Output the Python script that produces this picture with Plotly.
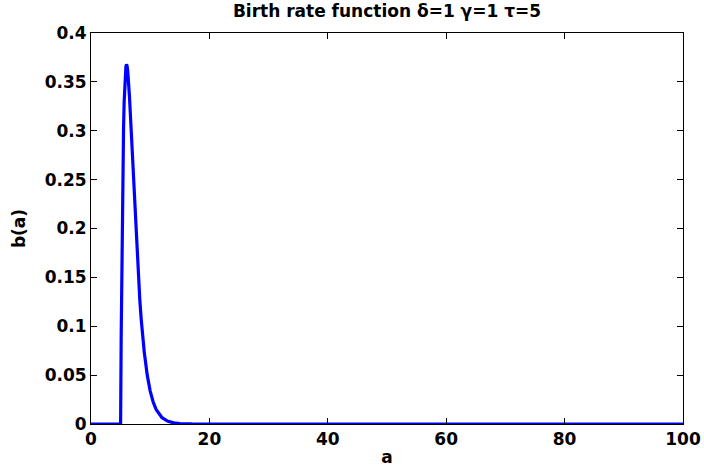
import plotly.graph_objects as go

# age values and birth rate
a_vals = [0, 4.99, 5.0, 5.1, 5.2, 5.3, 5.4, 5.5, 5.6, 5.7, 5.8, 5.9, 6.0, 6.1, 6.2, 6.3, 6.4, 6.5,
          6.6, 6.8, 7.0, 7.25, 7.5, 7.75, 8.0, 8.25, 8.5, 8.75, 9.0, 9.5, 10.0, 10.5, 11.0, 12.0,
          13.0, 14.0, 15.0, 17.0, 20.0, 100.0]
b_vals = [0, 0, 0, 0.0905, 0.1637, 0.2222, 0.2681, 0.3033, 0.3293, 0.3476, 0.3595, 0.3659,
          0.3679, 0.3662, 0.3614, 0.3543, 0.3452, 0.3347, 0.3230, 0.2975, 0.2707, 0.2371,
          0.2052, 0.1757, 0.1494, 0.1261, 0.1057, 0.0881, 0.0733, 0.0500, 0.0337, 0.0225,
          0.0149, 0.0064, 0.0027, 0.0011, 0.00045, 0.00007, 0.0, 0.0]

x_ticks = [0, 20, 40, 60, 80, 100]
y_ticks = [0, 0.05, 0.1, 0.15, 0.2, 0.25, 0.3, 0.35, 0.4]
y_tick_text = ["0", "0.05", "0.1", "0.15", "0.2", "0.25", "0.3", "0.35", "0.4"]

font_family = "DejaVu Sans, Liberation Sans, Arial, sans-serif"

fig = go.Figure()
fig.add_trace(go.Scatter(x=a_vals, y=b_vals, mode="lines",
                         line=dict(color="#0000ff", width=3.2),
                         showlegend=False))

axis_common = dict(showgrid=False, zeroline=False, showline=True, linecolor="black", linewidth=1,
                   mirror="ticks", ticks="inside", ticklen=6, tickcolor="black",
                   automargin=False,
                   tickfont=dict(family=font_family, size=17, color="black", weight="bold"))

fig.update_layout(
    width=704, height=474,
    paper_bgcolor="white", plot_bgcolor="white",
    margin=dict(l=91, r=21, t=33, b=50),
    title=dict(text="Birth rate function δ=1 γ=1 τ=5", x=(91 + 683) / 2 / 704, xanchor="center",
               y=1 - 11 / 474, yanchor="middle",
               font=dict(family=font_family, size=17, color="black", weight="bold")),
    xaxis=dict(range=[0, 100], tickvals=x_ticks,
               title=dict(text="a", standoff=2,
                          font=dict(family=font_family, size=17, color="black", weight="bold")),
               **axis_common),
    yaxis=dict(range=[0, 0.4], tickvals=y_ticks, ticktext=y_tick_text,
               title=dict(text="b(a)", standoff=14,
                          font=dict(family=font_family, size=17, color="black", weight="bold")),
               **axis_common),
)

fig.write_html("out.html", config={"displayModeBar": False},
               post_script="document.body.style.margin='0';")
